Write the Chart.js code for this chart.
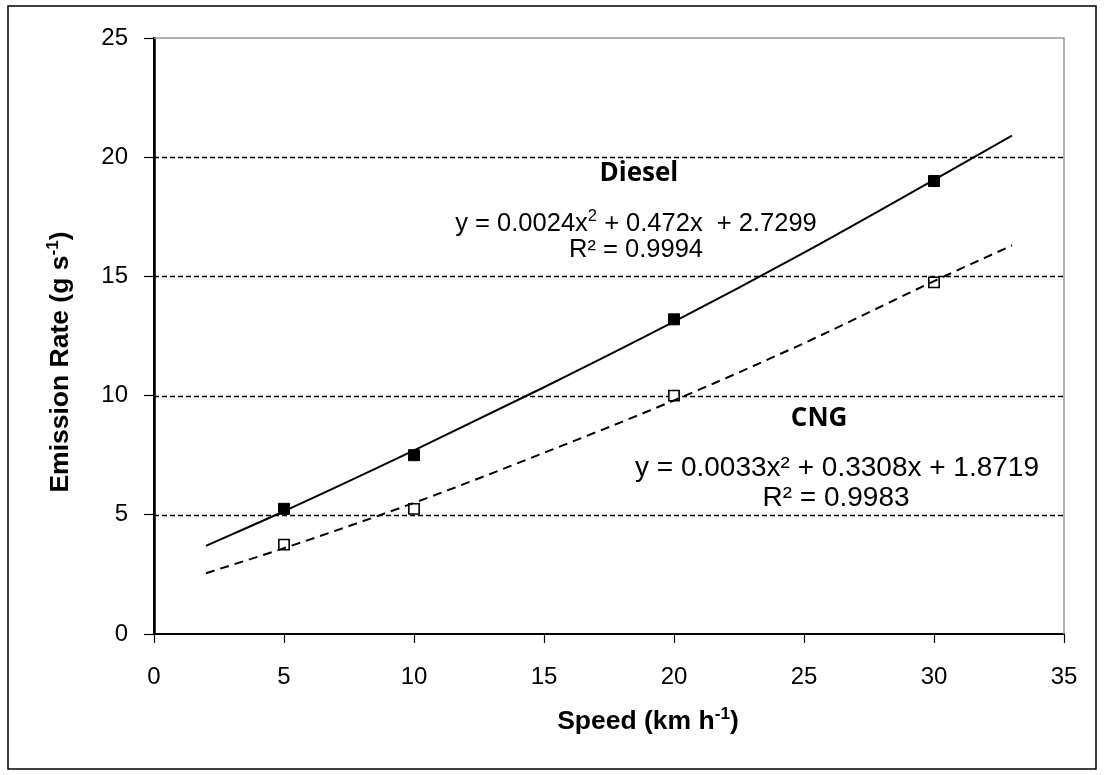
<!DOCTYPE html>
<html>
<head>
<meta charset="utf-8">
<script src="https://cdn.jsdelivr.net/npm/chart.js@4.4.1/dist/chart.umd.min.js"></script>
<style>
html,body{margin:0;padding:0;background:#fff;}
#wrap{width:1104px;height:775px;position:relative;}
</style>
</head>
<body>
<div id="wrap"><canvas id="c" width="1104" height="775"></canvas></div>
<script>
// ---- data ----
const speeds = [5, 10, 20, 30];
const dieselRate = [5.25, 7.5, 13.2, 19.0];
const cngRate = [3.75, 5.25, 10.0, 14.75];

// trendline curves
const trendX = [2, 5, 10, 15, 20, 25, 30, 33];
const dieselTrend = [3.7, 5.15, 7.7, 10.35, 13.1, 16.0, 19.05, 20.9];
const cngTrend = [2.55, 3.6, 5.5, 7.6, 9.8, 12.2, 14.8, 16.3];

const xTicks = [0, 5, 10, 15, 20, 25, 30, 35];
const yTicks = [0, 5, 10, 15, 20, 25];

const xTitle = [{t: 'Speed (km h'}, {t: '-1', sup: true}, {t: ')'}];
const yTitle = [{t: 'Emission Rate (g s'}, {t: '-1', sup: true}, {t: ')'}];

const dieselName = 'Diesel';
const cngName = 'CNG';
const dieselEq = [{t: 'y = 0.0024x'}, {t: '2', sup: true}, {t: ' + 0.472x  + 2.7299'}];
const dieselR2 = 'R² = 0.9994';
const cngEq = 'y = 0.0033x² + 0.3308x + 1.8719';
const cngR2 = 'R² = 0.9983';

const pts = (xs, ys) => xs.map((x, i) => ({x: x, y: ys[i]}));

function drawRich(ctx, parts, cx, cy, size, weight, family) {
  const supSize = size * 0.65;
  let total = 0;
  const widths = parts.map(p => {
    ctx.font = weight + ' ' + (p.sup ? supSize : size) + 'px ' + family;
    const w = ctx.measureText(p.t).width;
    total += w;
    return w;
  });
  let x = cx - total / 2;
  ctx.textAlign = 'left';
  ctx.textBaseline = 'middle';
  parts.forEach((p, i) => {
    ctx.font = weight + ' ' + (p.sup ? supSize : size) + 'px ' + family;
    ctx.fillText(p.t, x, p.sup ? cy - size * 0.3 : cy);
    x += widths[i];
  });
}

const decor = {
  id: 'decor',
  beforeDraw(chart) {
    const ctx = chart.ctx;
    ctx.save();
    ctx.fillStyle = '#fff';
    ctx.fillRect(0, 0, chart.width, chart.height);
    ctx.strokeStyle = '#000';
    ctx.lineWidth = 1.5;
    ctx.strokeRect(8, 6, 1088, 763);
    ctx.restore();
  },
  beforeDatasetsDraw(chart) {
    const ctx = chart.ctx, a = chart.chartArea, ys = chart.scales.y;
    ctx.save();
    // dashed gridlines
    ctx.strokeStyle = '#000';
    ctx.lineWidth = 1.3;
    ctx.setLineDash([5, 3]);
    yTicks.forEach(v => {
      if (v === 0 || v === 25) return;
      const py = Math.round(ys.getPixelForValue(v)) + 0.5;
      ctx.beginPath(); ctx.moveTo(a.left, py); ctx.lineTo(a.right, py); ctx.stroke();
    });
    ctx.setLineDash([]);
    // gray top & right plot border
    ctx.strokeStyle = '#9a9a9a';
    ctx.lineWidth = 1.5;
    ctx.beginPath();
    ctx.moveTo(a.left, a.top); ctx.lineTo(a.right, a.top); ctx.lineTo(a.right, a.bottom);
    ctx.stroke();
    ctx.restore();
  },
  afterDraw(chart) {
    const ctx = chart.ctx, xs = chart.scales.x, ys = chart.scales.y;
    ctx.save();
    ctx.fillStyle = '#000';
    // axis titles
    drawRich(ctx, xTitle, 648, 722, 26.5, 'bold', '"Liberation Sans", Arial, sans-serif');
    ctx.save();
    ctx.translate(61, 362);
    ctx.rotate(-Math.PI / 2);
    drawRich(ctx, yTitle, 0, 0, 26.5, 'bold', '"Liberation Sans", Arial, sans-serif');
    ctx.restore();
    // series labels anchored to data coordinates
    const X = v => xs.getPixelForValue(v), Y = v => ys.getPixelForValue(v);
    ctx.textAlign = 'center';
    ctx.textBaseline = 'middle';
    ctx.font = 'bold 26px "Open Sans", sans-serif';
    ctx.fillText(dieselName, X(18.65), Y(19.3));
    ctx.fillText(cngName, X(25.58), Y(9.03));
    drawRich(ctx, dieselEq, X(18.54), Y(17.2), 25.5, 'normal', '"Liberation Sans", Arial, sans-serif');
    ctx.textAlign = 'center';
    ctx.font = '25.5px "Liberation Sans", Arial, sans-serif';
    ctx.fillText(dieselR2, X(18.54), Y(16.1));
    ctx.font = '28px "Liberation Sans", Arial, sans-serif';
    ctx.fillText(cngEq, X(26.27), Y(6.96));
    ctx.fillText(cngR2, X(26.23), Y(5.7));
    ctx.restore();
  }
};

new Chart(document.getElementById('c'), {
  type: 'scatter',
  data: {
    datasets: [
      {
        label: 'Diesel trend', type: 'line', data: pts(trendX, dieselTrend),
        borderColor: '#000', borderWidth: 2, pointRadius: 0, fill: false,
        cubicInterpolationMode: 'monotone', order: 0
      },
      {
        label: 'CNG trend', type: 'line', data: pts(trendX, cngTrend),
        borderColor: '#000', borderWidth: 2, borderDash: [9, 6], pointRadius: 0, fill: false,
        cubicInterpolationMode: 'monotone', order: 1
      },
      {
        label: 'Diesel', data: pts(speeds, dieselRate),
        pointStyle: 'rect', pointRadius: 7.8, backgroundColor: '#000', borderColor: '#000', borderWidth: 1, order: 2
      },
      {
        label: 'CNG', data: pts(speeds, cngRate),
        pointStyle: 'rect', pointRadius: 7.3, backgroundColor: '#fff', borderColor: '#000', borderWidth: 1.6, order: 3
      }
    ]
  },
  options: {
    responsive: false,
    animation: false,
    layout: {padding: {left: 0, right: 40, top: 38, bottom: 0}},
    plugins: {legend: {display: false}, tooltip: {enabled: false}},
    scales: {
      x: {
        type: 'linear', min: 0, max: 35,
        afterFit(s) { s.height = 141; },
        afterBuildTicks(s) { s.ticks = xTicks.map(v => ({value: v})); },
        ticks: {color: '#000', padding: 20, font: {family: '"Liberation Sans", Arial, sans-serif', size: 24}},
        grid: {drawOnChartArea: false, drawTicks: true, tickLength: 9, tickColor: '#000', tickWidth: 1.2},
        border: {display: true, color: '#000', width: 2}
      },
      y: {
        type: 'linear', min: 0, max: 25,
        afterFit(s) { s.width = 154; },
        afterBuildTicks(s) { s.ticks = yTicks.map(v => ({value: v})); },
        ticks: {color: '#000', padding: 16, font: {family: '"Liberation Sans", Arial, sans-serif', size: 24}},
        grid: {drawOnChartArea: false, drawTicks: true, tickLength: 10, tickColor: '#000', tickWidth: 1.2},
        border: {display: true, color: '#000', width: 2.8}
      }
    }
  },
  plugins: [decor]
});
</script>
</body>
</html>
